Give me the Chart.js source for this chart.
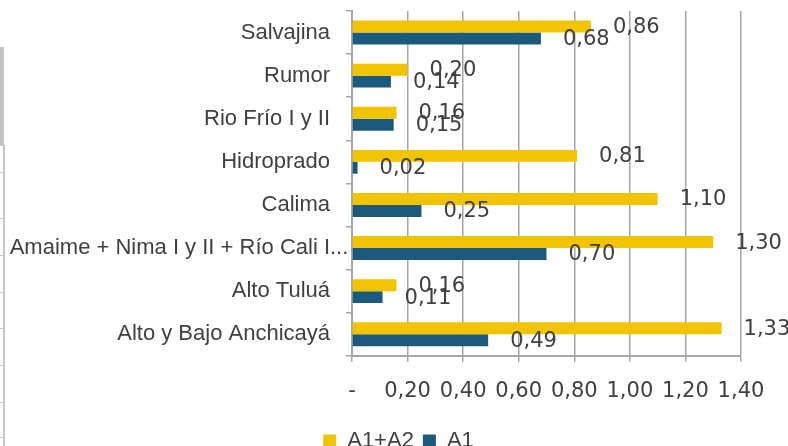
<!DOCTYPE html>
<html>
<head>
<meta charset="utf-8">
<script src="https://cdn.jsdelivr.net/npm/chart.js@4/dist/chart.umd.min.js"></script>
<style>
  html, body { margin: 0; padding: 0; background: #fff; overflow: hidden; }
  #wrap { position: relative; width: 788px; height: 462px; }
  .edge { position: absolute; background: #c4c4c4; }
</style>
</head>
<body>
<div id="wrap">
  <canvas id="chart"></canvas>
  <!-- bits of the spreadsheet grid peeking in at the left edge -->
  <div class="edge" style="left:0;top:47px;width:4px;height:98px;"></div>
  <div class="edge" style="left:3px;top:145px;width:2px;height:301px;"></div>
  <div class="edge" style="left:0;top:145px;width:4px;height:1px;"></div>
  <div class="edge" style="left:0;top:172px;width:4px;height:1px;"></div>
  <div class="edge" style="left:0;top:218px;width:4px;height:1px;"></div>
  <div class="edge" style="left:0;top:255px;width:4px;height:1px;"></div>
  <div class="edge" style="left:0;top:292px;width:4px;height:1px;"></div>
  <div class="edge" style="left:0;top:328px;width:4px;height:1px;"></div>
  <div class="edge" style="left:0;top:365px;width:4px;height:1px;"></div>
  <div class="edge" style="left:0;top:402px;width:4px;height:1px;"></div>
  <div class="edge" style="left:0;top:437px;width:4px;height:1px;"></div>
</div>
<script>
const plantas = ['Salvajina', 'Rumor', 'Rio Frío I y II', 'Hidroprado', 'Calima',
                 'Amaime + Nima I y II + Río Cali I...', 'Alto Tuluá', 'Alto y Bajo Anchicayá'];
const a1a2 = [0.86, 0.20, 0.16, 0.81, 1.10, 1.30, 0.16, 1.33];
const a1 = [0.68, 0.14, 0.15, 0.02, 0.25, 0.70, 0.11, 0.49];
const xTicks = [0, 0.2, 0.4, 0.6, 0.8, 1.0, 1.2, 1.4];

const TXT = '#404040';
const GRID = '#a6a6a6';
const FONT = "'Liberation Sans', Arial, sans-serif";
const NUMFONT = "'DejaVu Sans', sans-serif";
const Y_TICK_LEN = 6, Y_PAD = 16;

Chart.defaults.font.family = FONT;
Chart.defaults.font.size = 22;
Chart.defaults.color = TXT;

const fmt = v => v === 0 ? '-' : v.toFixed(2).replace('.', ',');
const truncated = s => s.endsWith('...');

// value labels, Excel style: a bit past the bar end
const valueLabels = {
    id: 'valueLabels',
    afterDatasetsDraw(chart) {
        const ctx = chart.ctx;
        ctx.save();
        ctx.font = '21px ' + NUMFONT;
        ctx.fillStyle = TXT;
        ctx.textAlign = 'left';
        ctx.textBaseline = 'middle';
        chart.data.datasets.forEach((ds, i) => {
            chart.getDatasetMeta(i).data.forEach((bar, j) => {
                ctx.fillText(fmt(ds.data[j]), bar.x + 22, bar.y + 1);
            });
        });
        ctx.restore();
    }
};

// Excel lets the "..." of a cut-off category hang past the other labels
const longLabel = {
    id: 'longLabel',
    afterDraw(chart) {
        const y = chart.scales.y;
        const ctx = chart.ctx;
        ctx.save();
        ctx.font = '22px ' + FONT;
        ctx.fillStyle = TXT;
        ctx.textAlign = 'left';
        ctx.textBaseline = 'middle';
        plantas.forEach((p, i) => {
            if (!truncated(p)) return;
            const w = ctx.measureText(p.slice(0, -3)).width;
            ctx.fillText(p, y.right - Y_TICK_LEN - Y_PAD - w, y.getPixelForTick(i));
        });
        ctx.restore();
    }
};

// the original legend sits a little right of the canvas centre
const nudgeLegend = {
    id: 'nudgeLegend',
    afterLayout(chart) {
        chart.legend.left += 28;
        chart.legend.right += 28;
    }
};

new Chart(document.getElementById('chart'), {
    type: 'bar',
    data: {
        labels: plantas,
        datasets: [
            { label: 'A1+A2', data: a1a2, backgroundColor: '#f2c300', barPercentage: 1, categoryPercentage: 0.555 },
            { label: 'A1', data: a1, backgroundColor: '#1b5a7c', barPercentage: 1, categoryPercentage: 0.555 }
        ]
    },
    options: {
        indexAxis: 'y',
        responsive: true,
        maintainAspectRatio: false,
        animation: false,
        layout: { padding: { top: 11, right: 47, left: 0, bottom: 0 } },
        plugins: {
            legend: {
                position: 'bottom',
                labels: { boxWidth: 13, boxHeight: 13, padding: 9, color: TXT, font: { size: 22 } }
            },
            tooltip: { enabled: false }
        },
        scales: {
            x: {
                min: 0, max: 1.4,
                afterBuildTicks: s => { s.ticks = xTicks.map(v => ({ value: v })); },
                ticks: { padding: 17, color: TXT, maxRotation: 0, font: { family: NUMFONT, size: 21 }, callback: v => fmt(v) },
                grid: { color: GRID, lineWidth: 1.5, tickLength: 6 },
                border: { color: GRID, width: 2 }
            },
            y: {
                afterFit: s => { s.width = 352; s.paddingTop = 0; s.paddingBottom = 0; },
                ticks: {
                    padding: Y_PAD, autoSkip: false,
                    color: c => truncated(plantas[c.index] || '') ? 'rgba(0,0,0,0)' : TXT
                },
                grid: { drawOnChartArea: false, color: GRID, lineWidth: 1.5, tickLength: Y_TICK_LEN },
                border: { color: GRID, width: 2 }
            }
        }
    },
    plugins: [valueLabels, longLabel, nudgeLegend]
});
</script>
</body>
</html>
